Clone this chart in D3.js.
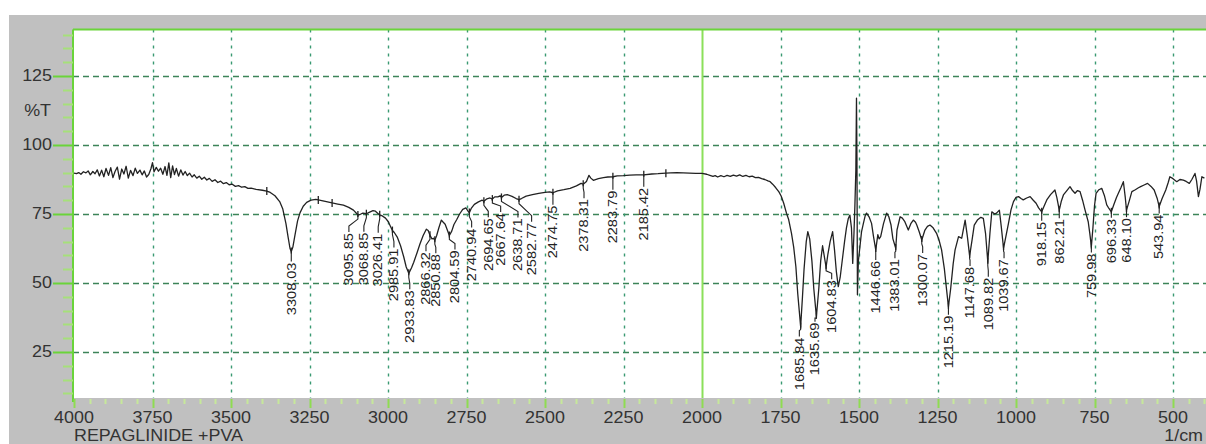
<!DOCTYPE html>
<html>
<head>
<meta charset="utf-8">
<script src="https://cdn.jsdelivr.net/npm/d3@7/dist/d3.min.js"></script>
<style>
  html, body { margin: 0; padding: 0; background: #ffffff; }
  svg { display: block; }
  text { font-family: "Liberation Sans", Arial, sans-serif; fill: #333; }
</style>
</head>
<body>
<svg id="chart" width="1206" height="444"></svg>
<script>
// FTIR spectrum: wavenumber (1/cm) and transmittance (%T)
const spectrum = [
  [4000, 89.8], [3992, 89.6], [3985, 90.0], [3978, 89.4], [3970, 90.3], [3962, 89.9],
  [3955, 90.6], [3948, 89.2], [3940, 90.4], [3933, 89.6], [3926, 91.0], [3919, 88.8],
  [3912, 90.9], [3905, 88.5], [3898, 91.5], [3890, 89.0], [3883, 91.8], [3876, 88.2],
  [3869, 90.5], [3862, 92.0], [3855, 87.6], [3848, 91.3], [3841, 89.5], [3834, 92.3],
  [3827, 88.0], [3820, 90.8], [3812, 88.9], [3805, 91.6], [3798, 89.7], [3790, 90.9],
  [3783, 89.2], [3776, 90.6], [3769, 88.4], [3762, 89.3], [3755, 91.4], [3750, 93.6],
  [3745, 90.3], [3738, 91.9], [3731, 90.5], [3724, 91.6], [3717, 89.4], [3710, 92.2],
  [3704, 89.0], [3698, 93.5], [3692, 88.2], [3686, 92.4], [3680, 89.3], [3674, 91.5],
  [3667, 88.7], [3660, 91.0], [3653, 89.1], [3646, 90.4], [3639, 88.9], [3632, 89.8],
  [3624, 88.4], [3617, 89.2], [3609, 88.0], [3601, 88.7], [3593, 87.6], [3585, 88.3],
  [3577, 87.3], [3569, 87.9], [3560, 86.8], [3551, 87.4], [3542, 86.4], [3533, 86.9],
  [3524, 86.0], [3515, 86.4], [3506, 85.6], [3496, 85.8], [3486, 85.0], [3476, 85.3],
  [3466, 84.7], [3456, 84.9], [3446, 84.3], [3436, 84.4], [3420, 83.9], [3400, 83.6],
  [3386, 83.3], [3375, 82.8], [3360, 81.6], [3345, 79.5], [3335, 76.8], [3325, 71.5],
  [3318, 66.5], [3312, 62.5], [3308.03, 61.4], [3303, 63.0], [3296, 67.5], [3288, 72.5],
  [3280, 75.5], [3270, 77.8], [3259, 79.2], [3245, 80.0], [3230, 80.3], [3222, 80.1],
  [3200, 79.6], [3178, 79.0], [3160, 78.6], [3142, 78.2], [3125, 77.4], [3110, 76.4],
  [3100, 75.2], [3095.85, 74.6], [3088, 74.9], [3080, 75.3], [3068.85, 75.1], [3060, 75.6],
  [3048, 76.2], [3040, 76.0], [3032, 75.2], [3026.41, 74.7], [3018, 74.3], [3008, 73.5],
  [2999, 72.2], [2992, 70.5], [2985.91, 69.0], [2980, 68.3], [2970, 66.5], [2960, 63.5],
  [2950, 59.5], [2942, 55.8], [2933.83, 53.5], [2925, 55.5], [2918, 57.5], [2908, 60.8],
  [2898, 64.2], [2888, 67.2], [2878, 69.5], [2872, 69.0], [2866.32, 67.3], [2860, 66.0],
  [2855, 66.2], [2850.88, 65.5], [2845, 67.2], [2838, 70.0], [2830, 72.8], [2824, 72.0],
  [2818, 71.3], [2812, 69.5], [2804.59, 67.2], [2797, 68.8], [2790, 71.2], [2781, 73.0],
  [2772, 75.0], [2762, 76.7], [2752, 77.2], [2745, 76.0], [2740.94, 75.5], [2735, 77.0],
  [2725, 78.5], [2712, 79.4], [2700, 80.0], [2694.65, 79.6], [2685, 80.5], [2675, 80.8],
  [2667.64, 80.4], [2660, 81.2], [2650, 81.2], [2643, 81.6], [2638.71, 81.0], [2630, 81.8],
  [2620, 82.0], [2605, 81.4], [2592, 80.6], [2582.77, 80.2], [2575, 80.6], [2560, 81.5],
  [2540, 82.0], [2520, 82.5], [2500, 82.8], [2485, 83.0], [2474.75, 82.7], [2460, 83.4],
  [2440, 83.8], [2420, 84.3], [2400, 85.2], [2385, 86.1], [2378.31, 85.8], [2368, 86.8],
  [2360, 89.0], [2354, 88.0], [2346, 87.2], [2330, 87.8], [2314, 88.2], [2300, 88.4],
  [2283.79, 88.5], [2270, 88.8], [2250, 88.9], [2230, 89.1], [2210, 89.2], [2185.42, 89.2],
  [2160, 89.5], [2140, 89.6], [2115, 89.8], [2100, 89.9], [2080, 90.0], [2060, 89.9],
  [2040, 89.8], [2020, 89.7], [2000, 89.7], [1985, 89.4], [1975, 89.0], [1965, 88.6],
  [1958, 88.9], [1950, 88.4], [1940, 88.9], [1930, 88.5], [1920, 89.0], [1910, 88.6],
  [1900, 89.1], [1890, 88.7], [1880, 89.2], [1870, 88.6], [1860, 89.0], [1850, 88.5],
  [1840, 88.7], [1830, 88.2], [1820, 88.3], [1810, 87.8], [1800, 87.5], [1790, 87.0],
  [1783, 86.7], [1775, 85.8], [1765, 84.5], [1755, 83.0], [1748, 81.5], [1740, 79.0],
  [1731, 75.3], [1724, 73.0], [1715, 68.0], [1708, 63.0], [1701, 55.9], [1695, 46.0],
  [1685.84, 34.2], [1680, 45.0], [1675, 55.0], [1668, 65.0], [1663, 68.6], [1657, 66.0],
  [1650, 58.0], [1644, 48.0], [1635.69, 37.8], [1628, 48.0], [1622, 58.0], [1616, 63.5],
  [1611, 60.0], [1604.83, 55.7], [1599, 60.5], [1592, 65.0], [1584, 68.6], [1578, 62.0],
  [1572, 54.0], [1566, 48.7], [1560, 52.0], [1553, 58.5], [1546, 65.0], [1540, 70.0],
  [1534, 73.4], [1529, 74.6], [1524, 70.0], [1520, 57.1], [1516, 68.0], [1513, 78.3],
  [1510, 91.0], [1508, 117.0], [1506.5, 95.0], [1505, 45.7], [1502, 58.0], [1497, 63.2],
  [1492, 68.5], [1486, 71.6], [1480, 74.5], [1476, 75.3], [1468, 74.0], [1460, 71.6],
  [1454, 67.0], [1446.66, 62.0], [1440, 67.5], [1436, 66.0], [1431, 66.8], [1422, 71.5],
  [1412, 75.3], [1405, 74.0], [1398, 71.0], [1392, 66.0], [1383.01, 62.6], [1379, 69.2],
  [1369, 74.0], [1362, 73.5], [1354, 72.2], [1343, 69.2], [1335, 71.5], [1327, 72.8],
  [1320, 72.0], [1316, 71.0], [1308, 68.5], [1300.07, 65.6], [1290, 69.2], [1282, 70.5],
  [1274, 71.0], [1264, 70.0], [1253, 68.0], [1245, 65.5], [1237, 62.0], [1228, 55.0],
  [1221, 47.5], [1215.19, 41.4], [1208, 48.0], [1200, 57.0], [1194, 62.0], [1183, 66.8],
  [1173, 66.2], [1162, 72.8], [1155, 67.0], [1147.68, 59.8], [1140, 65.5], [1133, 71.0],
  [1123, 72.8], [1112, 73.8], [1104, 73.4], [1097, 68.0], [1089.82, 57.7], [1083, 68.0],
  [1077, 75.8], [1068, 75.0], [1062, 75.3], [1053, 76.4], [1047, 70.5], [1039.67, 62.6],
  [1032, 67.0], [1024, 71.6], [1016, 76.5], [1008, 79.5], [1000, 81.0], [992, 81.3],
  [984, 80.6], [977, 80.1], [966, 80.8], [955, 81.3], [945, 80.0], [936, 78.9],
  [928, 77.2], [918.15, 75.8], [910, 78.0], [902, 80.1], [890, 82.0], [876, 83.7],
  [870, 81.0], [862.21, 76.4], [856, 79.5], [849, 81.9], [838, 83.5], [828, 84.9],
  [820, 83.5], [812, 82.5], [804, 83.5], [796, 83.1], [788, 80.0], [780, 76.4],
  [770, 72.2], [765, 68.0], [759.98, 63.2], [755, 70.0], [750, 78.0], [745, 82.5],
  [736, 83.8], [727, 84.3], [718, 81.5], [711, 78.3], [704, 77.0], [696.33, 75.8],
  [688, 78.5], [680, 81.0], [674, 82.5], [666, 84.5], [658, 86.7], [652, 81.0],
  [648.10, 76.4], [640, 79.5], [631, 83.1], [620, 83.8], [610, 84.5], [603, 84.9],
  [592, 85.5], [581, 86.1], [570, 85.0], [560, 83.7], [550, 80.5], [543.94, 77.7],
  [535, 80.5], [523, 83.7], [515, 86.5], [510, 88.5], [500, 87.8], [488, 86.7],
  [478, 87.5], [467, 87.3], [458, 86.8], [448, 86.1], [440, 87.5], [430, 89.7],
  [425, 87.0], [419, 81.3], [414, 84.0], [408, 88.5], [400, 88.0]
];

// Picked peaks (wavenumbers shown as labels)
const peakLabels = [
  "3308.03", "3095.85", "3068.85", "3026.41", "2985.91", "2933.83", "2866.32", "2850.88",
  "2804.59", "2740.94", "2694.65", "2667.64", "2638.71", "2582.77", "2474.75", "2378.31",
  "2283.79", "2185.42", "1685.84", "1635.69", "1604.83", "1446.66", "1383.01", "1300.07",
  "1215.19", "1147.68", "1089.82", "1039.67", "918.15", "862.21", "759.98", "696.33",
  "648.10", "543.94"
];
// Peaks marked on the trace without a label
const unlabeledPeaks = [3386, 3222, 3178, 2115];

const xTicks = [4000, 3750, 3500, 3250, 3000, 2750, 2500, 2250, 2000, 1750, 1500, 1250, 1000, 750, 500];
const yTicks = [25, 50, 75, 100, 125];

// Label placement: [horizontal shift, leader length] in px, to keep crowded labels apart
const labelPlacement = {
  "3308.03": [0, 10], "3095.85": [-9, 17], "3068.85": [-2.5, 18], "3026.41": [-1.5, 18],
  "2985.91": [1.5, 17], "2933.83": [1, 16], "2866.32": [-4, 16], "2850.88": [1, 13],
  "2804.59": [5.6, 14], "2740.94": [2.3, 15], "2694.65": [4.4, 16], "2667.64": [8.3, 13],
  "2638.71": [16.5, 20], "2582.77": [12.6, 22], "2474.75": [0, 12], "2378.31": [0.8, 14],
  "2283.79": [0, 13], "2185.42": [0, 12], "1685.84": [-1.3, 10], "1635.69": [-1.4, 5],
  "1604.83": [5.6, 12], "1446.66": [0, 10], "1383.01": [-0.8, 10], "1300.07": [0.9, 13],
  "1215.19": [0, 8], "1147.68": [0.4, 10], "1089.82": [0.5, 15], "1039.67": [0.5, 10],
  "918.15": [0, 9], "862.21": [0, 8], "759.98": [0, 6], "696.33": [0, 6],
  "648.10": [0, 7], "543.94": [0, 7]
};

const svg = d3.select("#chart");
const W = 1206, H = 444;
const plot = { left: 73, top: 29.5, right: 1206, bottom: 398 };

const x = d3.scaleLinear().domain([4000, 400]).range([74, 1204.4]);
const y = d3.scaleLinear().domain([8.33, 141.85]).range([plot.bottom, plot.top]);

// Frame: white margin, gray panel, white plotting area
svg.append("rect").attr("x", 0).attr("y", 0).attr("width", W).attr("height", H).attr("fill", "#ffffff");
svg.append("rect").attr("x", 9).attr("y", 15).attr("width", W - 9).attr("height", H - 15).attr("fill", "#c0c0c0");
svg.append("rect").attr("x", plot.left).attr("y", plot.top)
  .attr("width", plot.right - plot.left).attr("height", plot.bottom - plot.top).attr("fill", "#ffffff");

// Grid
const grid = svg.append("g");
grid.selectAll("line.h").data(yTicks).join("line")
  .attr("x1", plot.left).attr("x2", plot.right)
  .attr("y1", d => Math.round(y(d)) + 0.5).attr("y2", d => Math.round(y(d)) + 0.5)
  .attr("stroke", "#3c8458").attr("stroke-width", 1.4).attr("stroke-dasharray", "6,4");
grid.selectAll("line.v").data(xTicks.filter(d => d !== 4000 && d !== 2000)).join("line")
  .attr("x1", d => Math.round(x(d)) + 0.5).attr("x2", d => Math.round(x(d)) + 0.5)
  .attr("y1", plot.top).attr("y2", plot.bottom)
  .attr("stroke", "#3a9a72").attr("stroke-width", 1.4).attr("stroke-dasharray", "3,5");
grid.append("line")
  .attr("x1", Math.round(x(2000)) + 0.5).attr("x2", Math.round(x(2000)) + 0.5)
  .attr("y1", plot.top).attr("y2", plot.bottom)
  .attr("stroke", "#8be05a").attr("stroke-width", 2);

// Plot borders (top and left)
svg.append("line").attr("x1", plot.left).attr("x2", plot.right).attr("y1", plot.top).attr("y2", plot.top)
  .attr("stroke", "#6ad43a").attr("stroke-width", 2);
svg.append("line").attr("x1", plot.left).attr("x2", plot.left).attr("y1", plot.top).attr("y2", plot.bottom + 4)
  .attr("stroke", "#6ad43a").attr("stroke-width", 2);

// Wider glyphs for axis text
const stretch = 1.12;

// Y axis ticks (minor every 5, major every 25)
const yMinor = d3.range(10, 141, 5);
svg.append("g").selectAll("line").data(yMinor).join("line")
  .attr("x1", d => yTicks.includes(d) ? 53 : 63).attr("x2", plot.left)
  .attr("y1", d => Math.round(y(d)) + 0.5).attr("y2", d => Math.round(y(d)) + 0.5)
  .attr("stroke", d => yTicks.includes(d) ? "#6ad43a" : "#a6e07a").attr("stroke-width", 2);
svg.append("g").selectAll("text").data(yTicks).join("text")
  .attr("transform", d => `translate(52,${y(d) + 1}) scale(${stretch},1)`)
  .attr("text-anchor", "end").attr("dominant-baseline", "middle")
  .attr("font-size", 16).text(d => d);
svg.append("text")
  .attr("transform", `translate(51,${(y(125) + y(100)) / 2 + 1}) scale(${stretch},1)`)
  .attr("text-anchor", "end").attr("dominant-baseline", "middle")
  .attr("font-size", 16).text("%T");

// X axis ticks (minor every 50, major every 250)
const xMinor = d3.range(400, 4001, 50);
svg.append("g").selectAll("line").data(xMinor).join("line")
  .attr("x1", d => Math.round(x(d)) + 0.5).attr("x2", d => Math.round(x(d)) + 0.5)
  .attr("y1", plot.bottom + 1).attr("y2", d => plot.bottom + (xTicks.includes(d) ? 10 : 6))
  .attr("stroke", d => xTicks.includes(d) ? "#8fdc52" : "#c6e89a").attr("stroke-width", 2);
svg.append("g").selectAll("text").data(xTicks).join("text")
  .attr("transform", d => `translate(${x(d)},423) scale(${stretch},1)`)
  .attr("text-anchor", "middle").attr("font-size", 16).text(d => d);
svg.append("text").attr("transform", `translate(74,441) scale(${stretch},1)`)
  .attr("font-size", 16).text("REPAGLINIDE +PVA");
svg.append("text").attr("transform", `translate(1203,441) scale(${stretch},1)`)
  .attr("text-anchor", "end").attr("font-size", 16).text("1/cm");

// Spectrum trace
const line = d3.line().x(d => x(d[0])).y(d => y(d[1]));
svg.append("clipPath").attr("id", "plotClip").append("rect")
  .attr("x", plot.left).attr("y", plot.top).attr("width", plot.right - plot.left).attr("height", plot.bottom - plot.top);
svg.append("path").datum(spectrum)
  .attr("clip-path", "url(#plotClip)")
  .attr("d", line).attr("fill", "none").attr("stroke", "#222").attr("stroke-width", 1.3)
  .attr("stroke-linejoin", "round");

// Transmittance at a given wavenumber
const sorted = spectrum.slice().sort((a, b) => a[0] - b[0]);
function tAt(w) {
  const i = d3.bisector(d => d[0]).left(sorted, w);
  if (i <= 0) return sorted[0][1];
  if (i >= sorted.length) return sorted[sorted.length - 1][1];
  const a = sorted[i - 1], b = sorted[i];
  const t = (w - a[0]) / (b[0] - a[0]);
  return a[1] + t * (b[1] - a[1]);
}

// Peak marks on the trace
const marks = svg.append("g").attr("stroke", "#222").attr("stroke-width", 1.3);
marks.selectAll("line.u").data(unlabeledPeaks).join("line")
  .attr("x1", d => x(d)).attr("x2", d => x(d))
  .attr("y1", d => y(tAt(d)) - 4).attr("y2", d => y(tAt(d)) + 4);
marks.selectAll("line.l").data(peakLabels).join("line")
  .attr("x1", d => x(+d)).attr("x2", d => x(+d))
  .attr("y1", d => y(tAt(+d)) - 4).attr("y2", d => y(tAt(+d)) + 2);

// Peak labels with leader lines
const lab = svg.append("g");
peakLabels.forEach(s => {
  const w = +s;
  const px = x(w), py = y(tAt(w));
  const [dx, lead] = labelPlacement[s] || [0, 10];
  const tx = px + dx, ty = py + lead;
  const mid = py + Math.min(4, lead * 0.3);
  lab.append("polyline")
    .attr("points", `${px},${py} ${px},${mid} ${tx},${Math.max(mid, ty - 6)} ${tx},${ty}`)
    .attr("fill", "none").attr("stroke", "#222").attr("stroke-width", 1.1);
  lab.append("text")
    .attr("transform", `translate(${tx},${ty + 1}) rotate(-90) scale(1.12,1)`)
    .attr("text-anchor", "end").attr("dominant-baseline", "central")
    .attr("font-size", 13).style("fill", "#222").text(s);
});
</script>
</body>
</html>
